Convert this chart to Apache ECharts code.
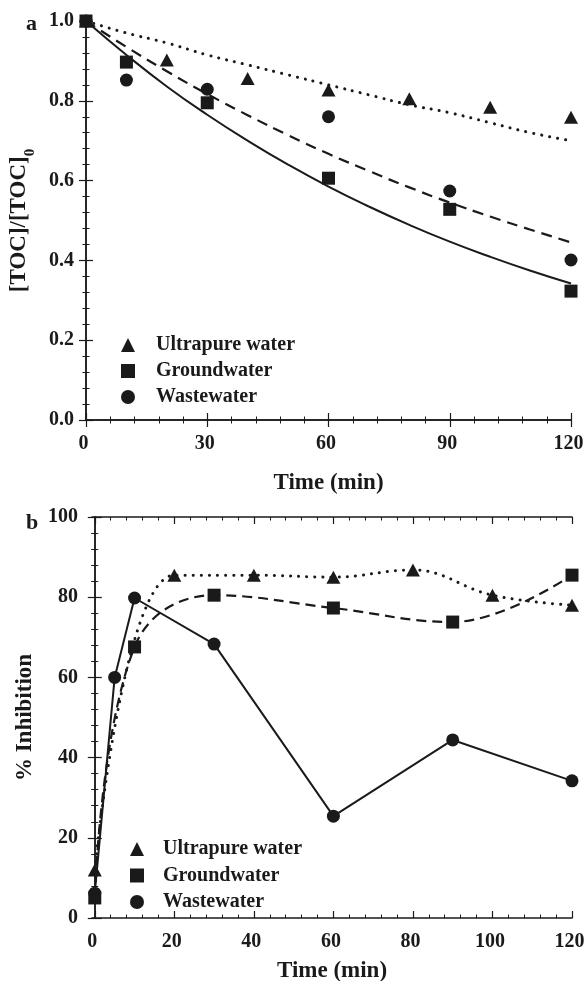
<!DOCTYPE html>
<html>
<head>
<meta charset="utf-8">
<script src="https://cdn.jsdelivr.net/npm/echarts@6/dist/echarts.min.js"></script>
<style>
  html, body { margin: 0; padding: 0; background: #fff; }
  #chart { width: 584px; height: 981px; }
</style>
</head>
<body>
<div id="chart"></div>
<script>
// panel a: TOC removal
const upTimeA = [0, 20, 40, 60, 80, 100, 120]
const upTocA = [1.0, 0.902, 0.856, 0.827, 0.805, 0.784, 0.759]
const gwTimeA = [0, 10, 30, 60, 90, 120]
const gwTocA = [1.0, 0.897, 0.795, 0.606, 0.528, 0.323]
const wwTimeA = [0, 10, 30, 60, 90, 120]
const wwTocA = [1.0, 0.852, 0.829, 0.76, 0.574, 0.401]

// fitted curves
const fitTime = [0, 10, 20, 30, 40, 50, 60, 70, 80, 90, 100, 110, 120]
const fitDotted = [1.0, 0.97, 0.945, 0.915, 0.89, 0.865, 0.84, 0.815, 0.79, 0.77, 0.745, 0.72, 0.70]
const fitDashed = [1.0, 0.935, 0.874, 0.817, 0.764, 0.714, 0.667, 0.624, 0.583, 0.545, 0.51, 0.477, 0.445]
const fitSolid = [1.0, 0.915, 0.836, 0.765, 0.70, 0.64, 0.585, 0.535, 0.489, 0.447, 0.409, 0.374, 0.342]

// panel b: % inhibition
const upTimeB = [0, 20, 40, 60, 80, 100, 120]
const upInhB = [12, 85.5, 85.5, 85, 86.8, 80.5, 78]
const gwTimeB = [0, 10, 30, 60, 90, 120]
const gwInhB = [5, 67.6, 80.5, 77.3, 73.8, 85.5]
const wwTimeB = [0, 5, 10, 30, 60, 90, 120]
const wwInhB = [6.2, 60, 79.8, 68.3, 25.4, 44.4, 34.2]

const xTicksB = [0, 20, 40, 60, 80, 100, 120]
const legendNames = ['Ultrapure water', 'Groundwater', 'Wastewater']

const ink = '#1a1a1a'
const font = "'Liberation Serif', 'Times New Roman', serif"
const zip = (xs, ys) => xs.map((x, i) => [x, ys[i]])

const xMinorB = []
for (let i = 0; i < xTicksB.length - 1; i++) {
  const step = (xTicksB[i + 1] - xTicksB[i]) / 5
  for (let k = 1; k < 5; k++) xMinorB.push(xTicksB[i] + k * step)
}

const line = { lineStyle: { color: ink, width: 1.5 } }
const label = { color: ink, fontFamily: font, fontWeight: 'bold', fontSize: 20 }
const nameStyle = { color: ink, fontFamily: font, fontWeight: 'bold', fontSize: 23 }
const solidInk = { color: ink, opacity: 1 }

function frameAxis(extra) {
  return Object.assign({
    type: 'value', axisLine: Object.assign({ show: true }, line),
    axisTick: { inside: true, length: 7, lineStyle: { color: ink, width: 1.2 } },
    minorTick: { show: true, splitNumber: 5, length: 3.5, lineStyle: { color: ink, width: 1 } },
    axisLabel: { show: false }, splitLine: { show: false }
  }, extra)
}

const legendData = [
  { name: legendNames[0], icon: 'triangle' },
  { name: legendNames[1], icon: 'rect' },
  { name: legendNames[2], icon: 'circle' }
]

const chart = echarts.init(document.getElementById('chart'))
chart.setOption({
  animation: false,
  backgroundColor: '#fff',
  title: [
    { text: 'a', left: 21, top: 8, textStyle: { color: ink, fontFamily: font, fontWeight: 'bold', fontSize: 22 } },
    { text: 'b', left: 21, top: 507, textStyle: { color: ink, fontFamily: font, fontWeight: 'bold', fontSize: 22 } }
  ],
  grid: [
    { left: 86, top: 21, width: 485, height: 399, outerBoundsMode: 'none' },
    { left: 92, top: 517, width: 480, height: 401, outerBoundsMode: 'none' }
  ],
  legend: [
    {
      orient: 'vertical', left: 116, top: 330, itemWidth: 14, itemHeight: 14, itemGap: 6,
      selectedMode: false, itemStyle: solidInk,
      textStyle: Object.assign({}, label, { lineHeight: 20, padding: [0, 0, 0, 16] }),
      data: legendData
    },
    {
      orient: 'vertical', left: 125, top: 834, itemWidth: 14, itemHeight: 14, itemGap: 6.5,
      selectedMode: false, itemStyle: solidInk,
      textStyle: Object.assign({}, label, { lineHeight: 20, padding: [0, 0, 0, 14] }),
      data: legendData
    }
  ],
  xAxis: [
    frameAxis({
      gridIndex: 0, position: 'bottom', min: 0, max: 120, interval: 30,
      axisLabel: Object.assign({ show: true, margin: 14, padding: [0, 5, 0, 0] }, label),
      name: 'Time (min)', nameLocation: 'middle', nameGap: 52, nameTextStyle: nameStyle
    }),
    frameAxis({ gridIndex: 0, position: 'top', min: 0, max: 120, interval: 30 }),
    frameAxis({
      gridIndex: 1, position: 'bottom', min: -0.7, max: 120,
      minorTick: { show: false },
      axisTick: { inside: true, length: 7, customValues: xTicksB, lineStyle: { color: ink, width: 1.2 } },
      axisLabel: Object.assign({ show: true, margin: 14, padding: [0, 5, 0, 0], customValues: xTicksB }, label),
      name: 'Time (min)', nameLocation: 'middle', nameGap: 42, nameTextStyle: nameStyle
    }),
    frameAxis({
      gridIndex: 1, position: 'bottom', min: -0.7, max: 120, axisLine: { show: false },
      minorTick: { show: false },
      axisTick: { inside: true, length: 3.5, customValues: xMinorB, lineStyle: { color: ink, width: 1 } }
    }),
    frameAxis({
      gridIndex: 1, position: 'top', min: -0.7, max: 120,
      minorTick: { show: false },
      axisTick: { inside: true, length: 7, customValues: xTicksB, lineStyle: { color: ink, width: 1.2 } }
    }),
    frameAxis({
      gridIndex: 1, position: 'top', min: -0.7, max: 120, axisLine: { show: false },
      minorTick: { show: false },
      axisTick: { inside: true, length: 3.5, customValues: xMinorB, lineStyle: { color: ink, width: 1 } }
    })
  ],
  yAxis: [
    frameAxis({
      gridIndex: 0, position: 'left', min: 0, max: 1, interval: 0.2,
      axisLabel: Object.assign({ show: true, margin: 12, formatter: v => v.toFixed(1) }, label),
      name: '{m|[TOC]/[TOC]}{s|0}', nameLocation: 'middle', nameGap: 50, nameRotate: 90,
      nameTextStyle: Object.assign({}, nameStyle, {
        rich: {
          m: { color: ink, fontFamily: font, fontWeight: 'bold', fontSize: 23 },
          s: { color: ink, fontFamily: font, fontWeight: 'bold', fontSize: 15, verticalAlign: 'bottom', padding: [0, 0, -8, 0] }
        }
      })
    }),
    frameAxis({ gridIndex: 0, position: 'right', min: 0, max: 1, interval: 0.2 }),
    frameAxis({
      gridIndex: 1, position: 'left', min: 0, max: 100, interval: 20,
      axisLabel: Object.assign({ show: true, margin: 14 }, label),
      name: '% Inhibition', nameLocation: 'middle', nameGap: 55, nameRotate: 90, nameTextStyle: nameStyle
    }),
    frameAxis({ gridIndex: 1, position: 'right', min: 0, max: 100, interval: 20 })
  ],
  series: [
    // panel a fits
    { name: 'fit dotted', type: 'line', xAxisIndex: 0, yAxisIndex: 0, smooth: true, showSymbol: false, silent: true,
      data: zip(fitTime, fitDotted), lineStyle: { color: ink, width: 3, type: [0.1, 8], cap: 'round' } },
    { name: 'fit dashed', type: 'line', xAxisIndex: 0, yAxisIndex: 0, smooth: true, showSymbol: false, silent: true,
      data: zip(fitTime, fitDashed), lineStyle: { color: ink, width: 2.2, type: [11, 7] } },
    { name: 'fit solid', type: 'line', xAxisIndex: 0, yAxisIndex: 0, smooth: true, showSymbol: false, silent: true,
      data: zip(fitTime, fitSolid), lineStyle: { color: ink, width: 2 } },
    // panel a points
    { name: legendNames[0], type: 'scatter', xAxisIndex: 0, yAxisIndex: 0, symbol: 'triangle', symbolSize: [14, 13],
      itemStyle: solidInk, data: zip(upTimeA, upTocA) },
    { name: legendNames[1], type: 'scatter', xAxisIndex: 0, yAxisIndex: 0, symbol: 'rect', symbolSize: 13,
      itemStyle: solidInk, data: zip(gwTimeA, gwTocA) },
    { name: legendNames[2], type: 'scatter', xAxisIndex: 0, yAxisIndex: 0, symbol: 'circle', symbolSize: 13,
      itemStyle: solidInk, data: zip(wwTimeA, wwTocA) },
    // panel b
    { name: legendNames[0], type: 'line', xAxisIndex: 2, yAxisIndex: 2, smooth: 0.4, symbol: 'triangle', symbolSize: [14, 13],
      itemStyle: solidInk, lineStyle: { color: ink, width: 3, type: [0.1, 8], cap: 'round' }, data: zip(upTimeB, upInhB) },
    { name: legendNames[1], type: 'line', xAxisIndex: 2, yAxisIndex: 2, smooth: 0.4, symbol: 'rect', symbolSize: 13,
      itemStyle: solidInk, lineStyle: { color: ink, width: 2.2, type: [10, 6] }, data: zip(gwTimeB, gwInhB) },
    { name: legendNames[2], type: 'line', xAxisIndex: 2, yAxisIndex: 2, symbol: 'circle', symbolSize: 13,
      itemStyle: solidInk, lineStyle: { color: ink, width: 2 }, data: zip(wwTimeB, wwInhB) }
  ]
})
</script>
</body>
</html>
